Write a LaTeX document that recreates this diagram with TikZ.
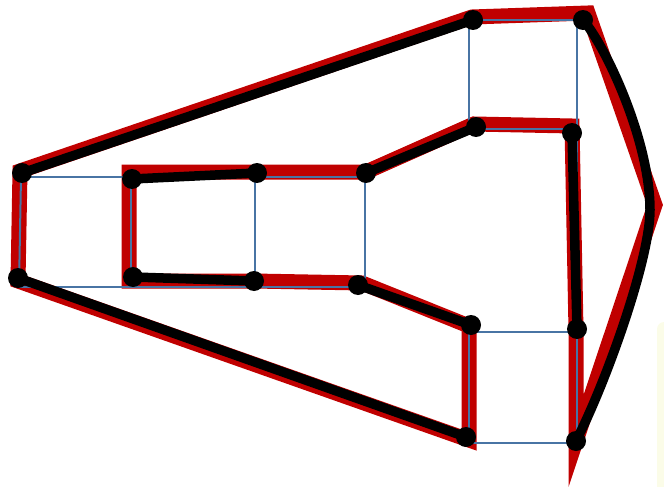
\documentclass[tikz,border=0pt]{standalone}
\definecolor{redc}{RGB}{192,0,0}
\definecolor{bluec}{RGB}{72,116,164}
\definecolor{yel}{RGB}{251,252,232}
\begin{document}
\begin{tikzpicture}[x=1pt,y=-1pt,
  redline/.style={line width=15pt, draw=redc, line join=miter, miter limit=10},
  gridline/.style={line width=2pt, draw=bluec},
  blk/.style={line width=9.5pt, draw=black, line cap=round},
  dot/.style={circle, fill=black, inner sep=0pt, minimum size=20pt}]
\useasboundingbox (0,0) rectangle (664,487);
% faint box at the right edge
\fill[yel, rounded corners=7pt] (657,322) rectangle (720,520);
% dot positions
\coordinate (p1) at (473,20);
\coordinate (p2) at (583,20);
\coordinate (p3) at (22,173);
\coordinate (p4) at (132,179);
\coordinate (p5) at (257,173);
\coordinate (p6) at (366,173);
\coordinate (p7) at (476,127);
\coordinate (p8) at (572,133);
\coordinate (p9) at (18,278);
\coordinate (p10) at (133,277);
\coordinate (p11) at (254,281);
\coordinate (p12) at (358,285);
\coordinate (p13) at (471,325);
\coordinate (p14) at (577,329);
\coordinate (p15) at (466,437);
\coordinate (p16) at (576,441);
% red polygon vertices
\coordinate (r1) at (472,17);
\coordinate (r2) at (588,13);
\coordinate (rt) at (655,205);
\coordinate (r16) at (576,441);
\coordinate (r14) at (576,330);
\coordinate (r8) at (572,126);
\coordinate (r7) at (474,124);
\coordinate (r6) at (366,172);
\coordinate (r5) at (257,172);
\coordinate (r4) at (129,172);
\coordinate (r10) at (129,281);
\coordinate (r11) at (254,281);
\coordinate (r12) at (362,283);
\coordinate (r13) at (469,326);
\coordinate (r15) at (469,440);
\coordinate (r9) at (18,281);
\coordinate (r3) at (20,171);
% curve controls
\coordinate (cA) at (605,45);
\coordinate (cB) at (650,140);
\coordinate (ct) at (650,210);
\coordinate (cC) at (650,260);
\coordinate (cD) at (605,385);
% red outline
\draw[redline] (r3) -- (r1) -- (r2) -- (rt) -- (r16) -- (r14) -- (r8) -- (r7) -- (r6)
  -- (r5) -- (r4) -- (r10) -- (r11) -- (r12) -- (r13) -- (r15) -- (r9) -- cycle;
% blue grid
\draw[gridline] (21,177) -- (365,177);
\draw[gridline] (19,287) -- (364,287);
\draw[gridline] (21,177) -- (19,287);
\draw[gridline] (131,177) -- (131,287);
\draw[gridline] (255,177) -- (255,287);
\draw[gridline] (365,177) -- (365,287);
\draw[gridline] (469,20) -- (577,20);
\draw[gridline] (469,129) -- (577,129);
\draw[gridline] (469,20) -- (469,129);
\draw[gridline] (577,20) -- (577,443);
\draw[gridline] (469,332) -- (577,332);
\draw[gridline] (469,443) -- (577,443);
\draw[gridline] (469,332) -- (469,443);
% black matching
\draw[blk] (p3) -- (p1);
\draw[blk] (p2) .. controls (cA) and (cB) .. (ct) .. controls (cC) and (cD) .. (p16);
\draw[blk] (p14) -- (p8);
\draw[blk] (p7) -- (p6);
\draw[blk] (p5) -- (p4);
\draw[blk] (p10) -- (p11);
\draw[blk] (p12) -- (p13);
\draw[blk] (p15) -- (p9);
% dots
\foreach \i in {1,...,16} { \node[dot] (d\i) at (p\i) {}; }
\end{tikzpicture}
\end{document}
